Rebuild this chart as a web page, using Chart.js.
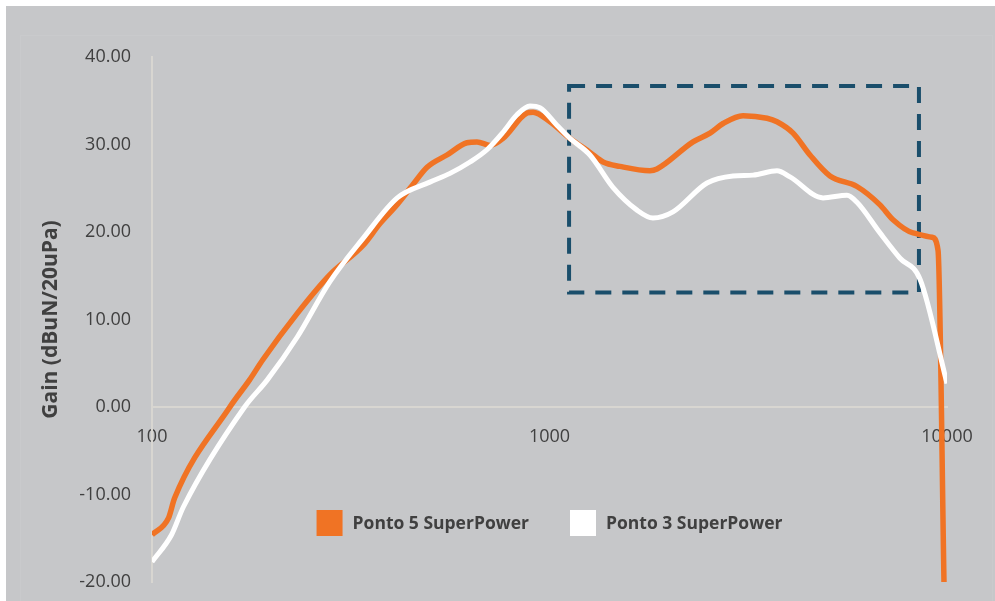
<!DOCTYPE html>
<html>
<head>
<meta charset="utf-8">
<script src="https://cdn.jsdelivr.net/npm/chart.js@4.4.1/dist/chart.umd.min.js"></script>
<style>
  html, body { margin: 0; padding: 0; background: #ffffff; }
  #wrap { position: relative; width: 995px; height: 601px; background: #ffffff; overflow: hidden; }
  #bg { position: absolute; left: 6px; top: 6px; width: 989px; height: 595px; background: #c6c7c9; }
  #plotFrame { position: absolute; left: 20px; top: 35px; width: 973px; height: 570px;
    border: 1px solid #c9cacc; box-sizing: border-box; }
  #chartGain { position: absolute; left: 0; top: 0; }
</style>
</head>
<body>
<div id="wrap">
  <div id="bg"></div>
  <div id="plotFrame"></div>
  <canvas id="chartGain" width="995" height="601"></canvas>
</div>
<script>
// Datos (frecuencia en Hz, ganancia en dBuN/20uPa)
const seriesLabels = ['Ponto 5 SuperPower', 'Ponto 3 SuperPower'];

const freqP5 = [100, 110, 114, 157, 176, 190, 232, 280, 340, 375, 413, 453, 492, 552, 620, 657, 710, 764,
  878, 909, 1003, 1126, 1264, 1364, 1504, 1789, 1864, 2296, 2534, 2733, 3068, 3526, 3735, 4100,
  4522, 5077, 5936, 6783, 7315, 8213, 9169, 9494, 9829];
const gainP5 = [-14.6, -12.7, -10.4, 0, 3.1, 5.4, 10.7, 15.1, 18.5, 21.0, 23.1, 25.4, 27.4, 28.8, 30.2, 30.3, 29.9, 30.7,
  33.6, 33.7, 32.6, 30.7, 29.1, 28.0, 27.5, 27.0, 27.2, 30.3, 31.3, 32.4, 33.3, 33.0, 32.6, 31.3,
  28.8, 26.4, 25.2, 23.1, 21.4, 19.9, 19.4, 17.9, -20.2];

const freqP3 = [100, 112, 120, 171, 195, 232, 280, 340, 414, 500, 562, 631, 696, 764, 828, 893, 946, 1044,
  1126, 1264, 1444, 1660, 1821, 2045, 2490, 2894, 3251, 3735, 4027, 4877, 5602, 5936, 6783,
  7618, 8554, 10000];
const gainP3 = [-17.7, -14.6, -11.4, 0, 3.1, 8.0, 14.3, 19.3, 23.9, 25.7, 26.7, 28.0, 29.4, 31.4, 33.4, 34.4, 34.2, 32.2,
  30.7, 28.8, 25.1, 22.5, 21.6, 22.3, 25.6, 26.4, 26.5, 27.0, 26.3, 23.9, 24.2, 23.4, 19.9,
  17.0, 14.6, 2.7];

const xTicks = [100, 1000, 10000];
const yTicks = [-20, -10, 0, 10, 20, 30, 40];

// Zona destacada: [freqMin, freqMax, gainMin, gainMax]
const highlightBox = [1120, 8500, 13.1, 36.7];

const textColor = '#404040';
const axisColor = '#d8d6d1';
const fontFamily = '"Open Sans", "DejaVu Sans", sans-serif';

function toPoints(xs, ys) {
  return xs.map((x, i) => ({ x: x, y: ys[i] }));
}

// Rectángulo discontinuo sobre la zona destacada
const highlightPlugin = {
  id: 'highlightBox',
  beforeDatasetsDraw(chart) {
    const { ctx, scales: { x, y } } = chart;
    const x1 = x.getPixelForValue(highlightBox[0]);
    const x2 = x.getPixelForValue(highlightBox[1]);
    const y1 = y.getPixelForValue(highlightBox[3]);
    const y2 = y.getPixelForValue(highlightBox[2]);
    ctx.save();
    ctx.strokeStyle = '#1a4e6b';
    ctx.lineWidth = 4;
    ctx.setLineDash([16, 11]);
    ctx.strokeRect(x1, y1, x2 - x1, y2 - y1);
    ctx.restore();
  }
};

// Leyenda dentro del área del gráfico
const inlineLegendPlugin = {
  id: 'inlineLegend',
  afterDraw(chart) {
    const { ctx, chartArea } = chart;
    const boxSize = 26;
    const boxGap = 10;
    const itemGap = 41;
    ctx.save();
    ctx.font = 'bold 17.5px ' + fontFamily;
    ctx.textBaseline = 'middle';
    const items = chart.data.datasets.map(ds => ({
      text: ds.label,
      color: ds.borderColor,
      width: boxSize + boxGap + ctx.measureText(ds.label).width
    }));
    const total = items.reduce((a, it) => a + it.width, 0) + itemGap * (items.length - 1);
    let cx = (chartArea.left + chartArea.right) / 2 - total / 2;
    const cy = chartArea.bottom - 59;
    items.forEach(it => {
      ctx.fillStyle = it.color;
      ctx.fillRect(cx, cy - boxSize / 2, boxSize, boxSize);
      ctx.fillStyle = textColor;
      ctx.fillText(it.text, cx + boxSize + boxGap, cy + 1);
      cx += it.width + itemGap;
    });
    ctx.restore();
  }
};

new Chart(document.getElementById('chartGain'), {
  type: 'line',
  data: {
    datasets: [{
      label: seriesLabels[0],
      data: toPoints(freqP5, gainP5),
      borderColor: '#f07324',
      backgroundColor: '#f07324',
      borderWidth: 5.5,
      pointRadius: 0,
      cubicInterpolationMode: 'monotone',
      order: 1
    }, {
      label: seriesLabels[1],
      data: toPoints(freqP3, gainP3),
      borderColor: '#ffffff',
      backgroundColor: '#ffffff',
      borderWidth: 5,
      pointRadius: 0,
      cubicInterpolationMode: 'monotone',
      order: 0
    }]
  },
  options: {
    responsive: false,
    animation: false,
    layout: {
      padding: { top: 57, right: 48, bottom: 19, left: 38 }
    },
    plugins: {
      legend: { display: false },
      tooltip: { enabled: false }
    },
    scales: {
      x: {
        type: 'logarithmic',
        min: 100,
        max: 10000,
        position: { y: 0 },
        grid: { display: false, drawTicks: false },
        border: { display: true, color: axisColor, width: 2 },
        afterBuildTicks: (scale) => {
          scale.ticks = xTicks.map(v => ({ value: v }));
        },
        ticks: {
          autoSkip: false,
          maxRotation: 0,
          padding: 19,
          color: textColor,
          font: { family: fontFamily, size: 18 },
          callback: (value) => String(value)
        }
      },
      y: {
        type: 'linear',
        min: -20,
        max: 40,
        grid: { display: false, drawTicks: false },
        border: { display: true, color: axisColor, width: 2 },
        afterBuildTicks: (scale) => {
          scale.ticks = yTicks.map(v => ({ value: v }));
        },
        afterFit: (scale) => {
          // ancho fijo del eje y sin margen extra abajo
          scale.width = 114;
          scale.paddingBottom = 0;
        },
        title: {
          display: true,
          text: 'Gain (dBuN/20uPa)',
          color: textColor,
          font: { family: fontFamily, size: 21, weight: 'bold' },
          padding: { top: 0, bottom: 0 }
        },
        ticks: {
          padding: 21,
          color: textColor,
          font: { family: fontFamily, size: 18 },
          callback: (value) => Number(value).toFixed(2)
        }
      }
    }
  },
  plugins: [highlightPlugin, inlineLegendPlugin]
});
</script>
</body>
</html>
